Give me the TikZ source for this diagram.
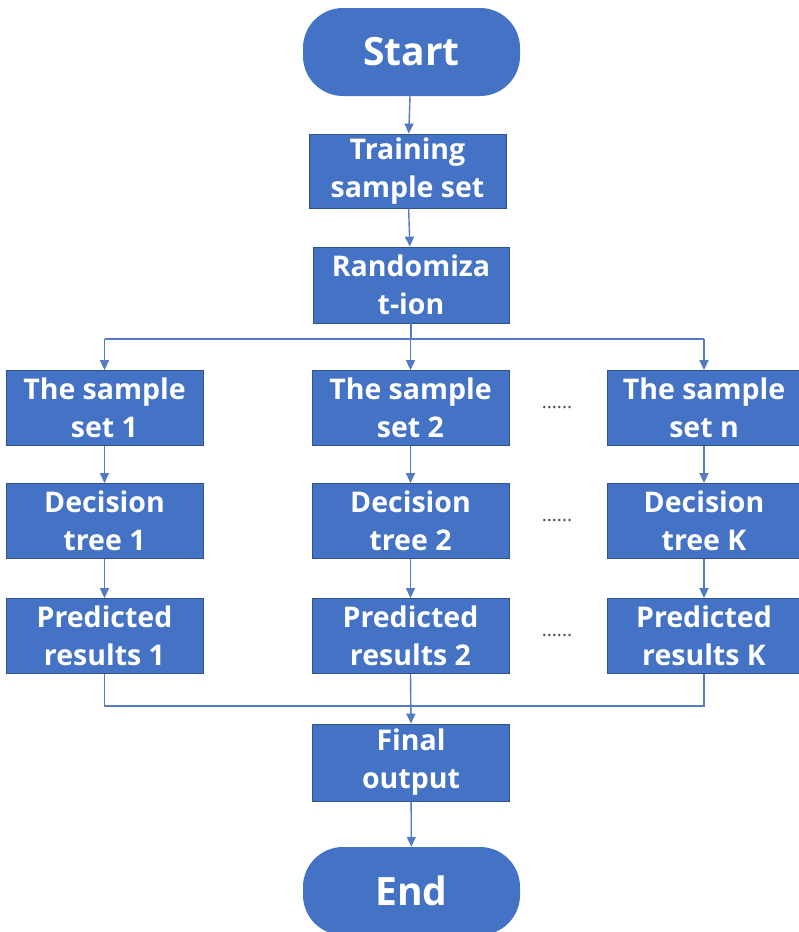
\documentclass[tikz,border=0pt]{standalone}
\usepackage{fontspec}
\setmainfont{Open Sans}
\usetikzlibrary{arrows.meta}
\definecolor{boxblue}{RGB}{68,114,196}
\definecolor{boxedge}{RGB}{47,82,143}
\definecolor{linkblue}{RGB}{84,122,196}
\begin{document}
\begin{tikzpicture}[x=1pt,y=-1pt,
  box/.style={rectangle, fill=boxblue, draw=boxedge, line width=0.8pt,
    minimum width=197pt, minimum height=75pt, text=white, inner sep=0pt,
    font=\fontsize{28.5}{38}\selectfont\bfseries, align=center},
  term/.style={rectangle, rounded corners=40pt, fill=boxblue, draw=none,
    minimum width=217pt, minimum height=88pt, text=white, inner sep=0pt,
    font=\fontsize{39}{46}\selectfont\bfseries},
  link/.style={draw=linkblue, line width=1.4pt, -{Triangle[width=9pt,length=10pt]}},
  plainline/.style={draw=linkblue, line width=1.2pt},
  dots/.style={font=\fontsize{19}{19}\selectfont, text=black!70, inner sep=0pt}]
\useasboundingbox (0,0) rectangle (799,932);
\clip (0,0) rectangle (799,932);
% terminals and boxes
\node[term] (start) at (411.5,52) {Start};
\node[box, minimum height=74pt] (train) at (407.5,171) {Training\\sample set};
\node[box, minimum width=196pt, minimum height=76pt] (rand) at (411,285) {Randomiza\\t-ion};
\node[box] (s1) at (104.5,408) {The sample\\set 1};
\node[box] (s2) at (410.5,408) {The sample\\set 2};
\node[box, minimum width=194pt] (sn) at (704,408) {The sample\\set n};
\node[box] (d1) at (104.5,521) {Decision\\tree 1};
\node[box] (d2) at (410.5,521) {Decision\\tree 2};
\node[box, minimum width=194pt] (dk) at (704,521) {Decision\\tree K};
\node[box] (p1) at (104.5,636) {Predicted\\results 1};
\node[box] (p2) at (410.5,636) {Predicted\\results 2};
\node[box, minimum width=194pt] (pk) at (704,636) {Predicted\\results K};
\node[box, minimum height=77pt] (fin) at (411,762.5) {Final\\output};
\node[term] (end) at (411.5,891) {End};
% dots
\node[dots] (dA) at (557,408) {......};
\node[dots] (dB) at (557,521) {......};
\node[dots] (dC) at (557,636) {......};
% split and merge coordinates
\coordinate (split) at (0,339);
\coordinate (merge) at (0,706);
% connectors
\draw[link] (start) -- (train);
\draw[link] (train) -- (rand);
\draw[plainline] (rand.south) -- (rand.south |- split);
\draw[plainline] (s1.north |- split) -- (sn.north |- split);
\draw[link] (s1.north |- split) -- (s1.north);
\draw[link] (s2.north |- split) -- (s2.north);
\draw[link] (sn.north |- split) -- (sn.north);
\draw[link] (s1) -- (d1);
\draw[link] (s2) -- (d2);
\draw[link] (sn) -- (dk);
\draw[link] (d1) -- (p1);
\draw[link] (d2) -- (p2);
\draw[link] (dk) -- (pk);
\draw[plainline] (p1.south) -- (p1.south |- merge) -- (pk.south |- merge) -- (pk.south);
\draw[link] (p2.south) -- (fin.north);
\draw[link] (fin) -- (end);
\end{tikzpicture}
\end{document}
